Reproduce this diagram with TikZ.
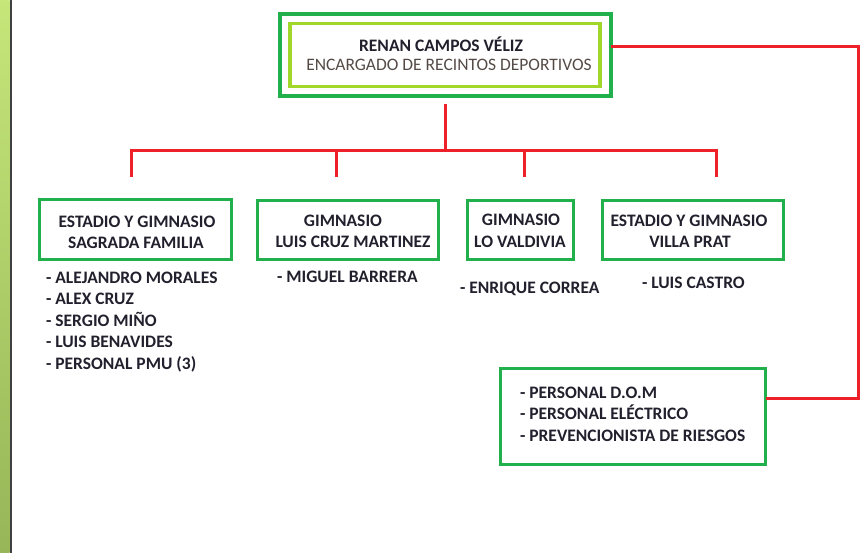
\documentclass[tikz,border=0pt]{standalone}
\usepackage{fontspec}
\setmainfont{Carlito}
\definecolor{dgreen}{RGB}{34,176,76}
\definecolor{lgreen}{RGB}{160,215,40}
\definecolor{lred}{RGB}{238,32,42}
\definecolor{txt}{RGB}{35,32,45}
\definecolor{subtxt}{RGB}{85,75,70}
\definecolor{stripetop}{RGB}{198,230,122}
\definecolor{stripebot}{RGB}{150,182,88}
\begin{document}
\begin{tikzpicture}[x=1pt,y=-1pt,
  every node/.style={inner sep=0pt,outer sep=0pt,font=\fontsize{17.5}{21}\selectfont\bfseries,text=txt,text height=14pt,text depth=1pt},
  gbox/.style={draw=dgreen,line width=3.8pt},
  lst/.style={anchor=west,align=left},
  redline/.style={draw=lred,line width=3pt}]
\useasboundingbox (0,0) rectangle (862,553);
\fill[white] (0,0) rectangle (862,553);
\shade[top color=stripetop,bottom color=stripebot] (0,0) rectangle (9.5,553);
\fill[black!75] (9.5,0) rectangle (11.5,553);
% top box
\node[draw=dgreen,line width=4pt,minimum width=331pt,minimum height=82pt,text height=,text depth=] (topouter) at (445,55.5) {};
\node[draw=lgreen,line width=3.5pt,minimum width=310pt,minimum height=63pt,text height=,text depth=] (topinner) at (445,55) {};
\node (tname) at (441,45) {RENAN CAMPOS VÉLIZ};
\node[font=\fontsize{17.5}{21}\selectfont,text=subtxt] (ttitle) at (449,64) {ENCARGADO DE RECINTOS DEPORTIVOS};
% second row boxes
\node[gbox,minimum width=192pt,minimum height=60pt,text height=,text depth=] (b1) at (135.5,229.5) {};
\node (b1a) at (137,221) {ESTADIO Y GIMNASIO};
\node (b1b) at (136,242) {SAGRADA FAMILIA};
\node[gbox,minimum width=181pt,minimum height=59pt,text height=,text depth=] (b2) at (348,230) {};
\node (b2a) at (343,220) {GIMNASIO};
\node (b2b) at (353,241) {LUIS CRUZ MARTINEZ};
\node[gbox,minimum width=106pt,minimum height=59pt,text height=,text depth=] (b3) at (520.5,230) {};
\node (b3a) at (521,219) {GIMNASIO};
\node (b3b) at (520,241) {LO VALDIVIA};
\node[gbox,minimum width=181pt,minimum height=59pt,text height=,text depth=] (b4) at (693,230) {};
\node (b4a) at (689,220) {ESTADIO Y GIMNASIO};
\node (b4b) at (690,241) {VILLA PRAT};
% lists
\node[lst] (l1) at (46,277) {- ALEJANDRO MORALES};
\node[lst] (l2) at (46,298) {- ALEX CRUZ};
\node[lst] (l3) at (46,320) {- SERGIO MIÑO};
\node[lst] (l4) at (46,341) {- LUIS BENAVIDES};
\node[lst] (l5) at (46,363) {- PERSONAL PMU (3)};
\node[lst] (m1) at (277,276) {- MIGUEL BARRERA};
\node[lst] (e1) at (460,287) {- ENRIQUE CORREA};
\node[lst] (c1) at (642,282) {- LUIS CASTRO};
% bottom box
\node[draw=dgreen,line width=2.5pt,minimum width=265pt,minimum height=96pt,text height=,text depth=] (bb) at (633,416.5) {};
\node[lst] (p1) at (520,392) {- PERSONAL D.O.M};
\node[lst] (p2) at (520,413) {- PERSONAL ELÉCTRICO};
\node[lst] (p3) at (520,435) {- PREVENCIONISTA DE RIESGOS};
% connectors
\coordinate (vtop) at (445,104);
\coordinate (hub) at (445,150.5);
\coordinate (d1) at (131,177);
\coordinate (d2) at (336,177);
\coordinate (d3) at (524,177);
\coordinate (d4) at (716,177);
\coordinate (rc) at (858.5,47);
\draw[redline] (vtop) -- (hub);
\draw[redline] (d1) |- (hub) -| (d4);
\draw[redline] (d2) -- (d2 |- hub);
\draw[redline] (d3) -- (d3 |- hub);
\draw[redline,line join=miter] (topouter.east |- rc) -- (rc) |- (bb.east |- 0,398);
\end{tikzpicture}
\end{document}
